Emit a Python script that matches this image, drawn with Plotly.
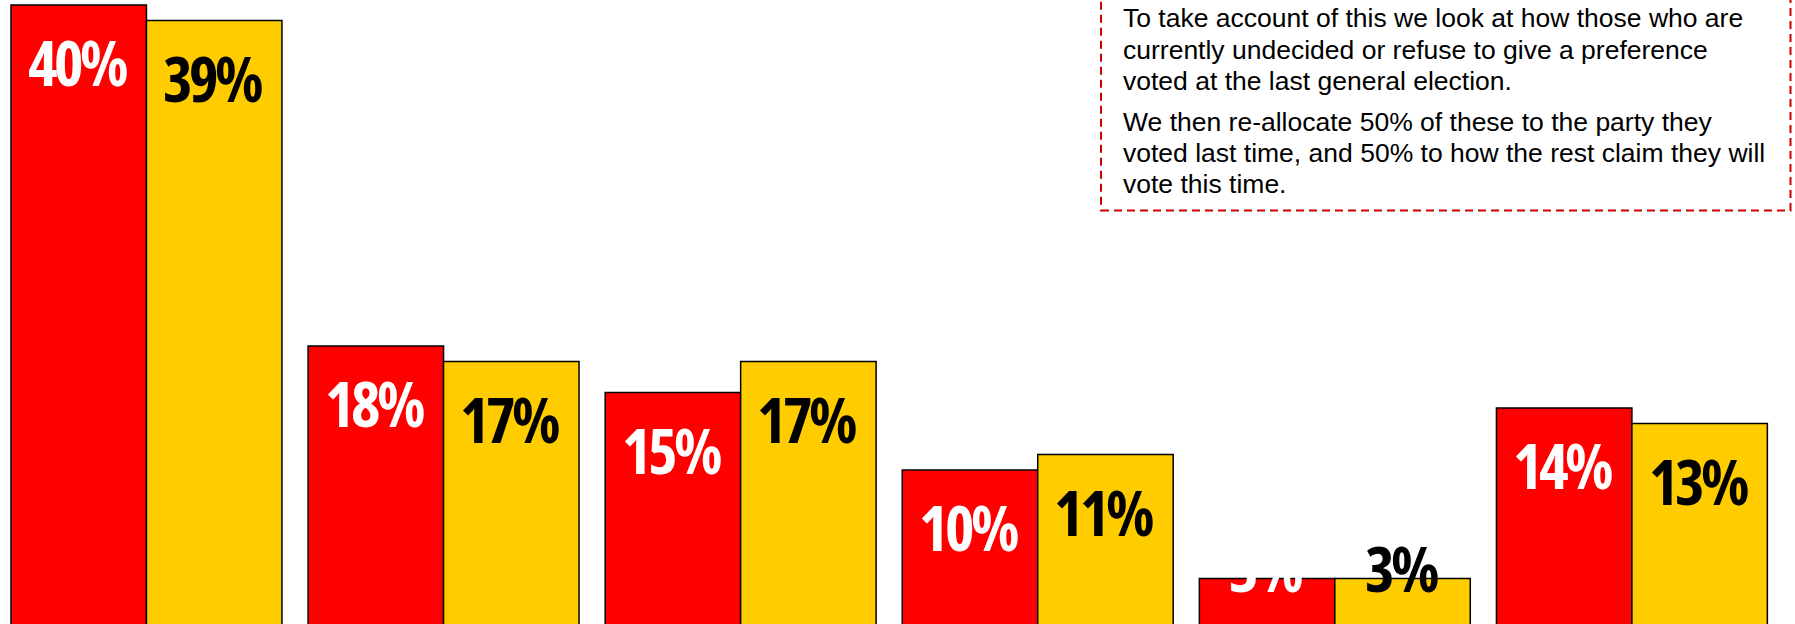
import plotly.graph_objects as go

# ---- data ----
parties = ["Party 1", "Party 2", "Party 3", "Party 4", "Party 5", "Party 6"]
series_names = ["Series 1", "Series 2"]
series_red = [40, 18, 15, 10, 3, 14]
series_yellow = [39, 17, 17, 11, 3, 13]
note_lines = [
    "To take account of this we look at how those who are",
    "currently undecided or refuse to give a preference",
    "voted at the last general election.",
    "We then re-allocate 50% of these to the party they",
    "voted last time, and 50% to how the rest claim they will",
    "vote this time.",
]

# ---- layout constants ----
W, H = 1795, 624
BAR_W = 0.456
RED = "#FF0000"
YELLOW = "#FFCC00"
LABEL_SIZE = 63
PX_PER_UNIT = 15.5
ZERO_PX = 625
LABEL_WRAP = '<span style="font-stretch:75%;letter-spacing:-3.5px">{}</span>'

fig = go.Figure()
for name, vals, col, off in [
    (series_names[0], series_red, RED, -BAR_W),
    (series_names[1], series_yellow, YELLOW, 0.0),
]:
    fig.add_trace(go.Bar(
        x=parties, y=vals, name=name,
        width=[BAR_W] * len(vals), offset=off,
        marker=dict(color=col, line=dict(color="#000000", width=1.5)),
        hoverinfo="skip",
    ))

annotations = []
for vals, txtcol, dx in [(series_red, "#FFFFFF", -BAR_W / 2),
                         (series_yellow, "#000000", BAR_W / 2)]:
    for i, v in enumerate(vals):
        if v * PX_PER_UNIT > 100:
            anchor, shift = "top", -12
        else:
            anchor, shift = "bottom", -33
        annotations.append(dict(
            x=i + dx, y=v, xref="x", yref="y", text=LABEL_WRAP.format(f"{v}%"),
            showarrow=False, xanchor="center", yanchor=anchor, yshift=shift, xshift=-1.5,
            font=dict(family="Open Sans", size=LABEL_SIZE, color=txtcol, weight="bold"),
        ))

baselines = [27, 59, 90, 131, 162, 193]
for line, b in zip(note_lines, baselines):
    annotations.append(dict(
        x=1121 / W, y=1 - (b - 9) / H, xref="paper", yref="paper",
        text=line, showarrow=False, xanchor="left", yanchor="middle",
        font=dict(family="Liberation Sans, Arial, sans-serif", size=26.5, color="#000000"),
    ))

fig.add_shape(
    type="rect", xref="paper", yref="paper",
    x0=1101 / W, x1=1790.5 / W, y0=1 - 210.5 / H, y1=1.1,
    line=dict(color="#CC0000", width=2, dash="8px,5px"),
    fillcolor="rgba(0,0,0,0)",
)

fig.update_layout(
    width=W, height=H,
    margin=dict(l=0, r=0, t=0, b=0),
    paper_bgcolor="#FFFFFF", plot_bgcolor="#FFFFFF",
    showlegend=False,
    barmode="group",
    annotations=annotations,
    xaxis=dict(visible=False, range=[-0.493, 5.549]),
    yaxis=dict(visible=False, range=[(ZERO_PX - H) / PX_PER_UNIT, ZERO_PX / PX_PER_UNIT]),
)

fig.write_html(
    "out.html",
    config={"displayModeBar": False, "staticPlot": True},
    post_script="document.body.style.margin='0';document.body.style.overflow='hidden';",
)
